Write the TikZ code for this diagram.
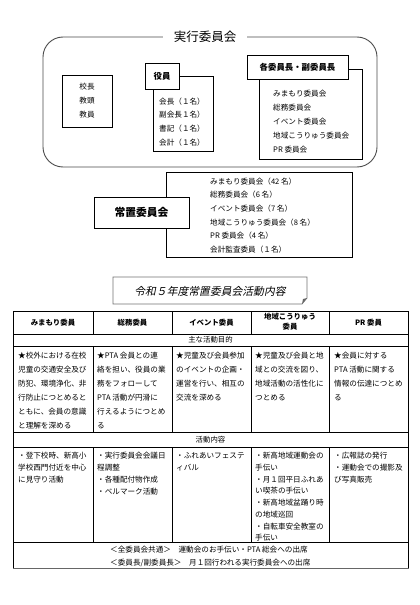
\documentclass[tikz,border=0pt]{standalone}
\usepackage{fontspec}
\setmainfont{Noto Sans CJK JP}
\newfontfamily\slantjp{Noto Sans CJK JP}[FakeSlant=0.2]

\begin{document}
\begin{tikzpicture}
  [
  x=1pt, y=-1pt,
  box/.style={draw, line width=0.7pt, inner sep=0pt},
  labelbox/.style={draw, fill=white, line width=0.7pt, inner sep=0pt, font=\fontsize{8.4}{10}\selectfont\bfseries},
  listtext/.style={anchor=north west, inner sep=0pt, align=left, font=\fontsize{7.6}{14}\selectfont},
  celltext/.style={anchor=north west, inner sep=0pt, align=left, font=\fontsize{7.6}{14}\selectfont},
  acttext/.style={celltext, font=\fontsize{7.6}{11.7}\selectfont},
  headtext/.style={inner sep=0pt, align=center, font=\fontsize{7.4}{10}\selectfont\bfseries},
  rowtext/.style={inner sep=0pt, font=\fontsize{7.4}{10}\selectfont},
  grid/.style={line width=0.6pt}
  ]
  \useasboundingbox (0,0) rectangle (420,605);
  \fill[white] (0,0) rectangle (420,605);

  % executive committee
  \node[draw=black!70, line width=0.9pt, rounded corners=20pt, minimum width=334pt, minimum height=130pt, inner sep=0pt] (exec) at (210,102) {};
  \node[fill=white, inner xsep=11pt, inner ysep=2pt, font=\fontsize{12.5}{14}\selectfont] (exectitle) at (205,37) {実行委員会};

  \node[box, minimum width=50pt, minimum height=52pt, align=center, font=\fontsize{7.6}{14}\selectfont] (staff) at (87,101) {校長\\教頭\\教員};

  \node[box, minimum width=60pt, minimum height=75pt] (officerbox) at (183,113.5) {};
  \node[listtext, font=\fontsize{7.6}{13.7}\selectfont] (officerlist) at (159,97.5) {会長（１名）\\副会長１名）\\書記（１名）\\会計（１名）};
  \node[labelbox, minimum width=34pt, minimum height=26pt] (officer) at (162,76) {役員};

  \node[box, minimum width=103pt, minimum height=90pt] (chairbox) at (310.5,114) {};
  \node[listtext] (chairlist) at (273,89.5) {みまもり委員会\\総務委員会\\イベント委員会\\地域こうりゅう委員会\\PR 委員会};
  \node[labelbox, minimum width=101pt, minimum height=24pt] (chair) at (297.5,67) {各委員長・副委員長};

  % standing committees
  \node[box, minimum width=186pt, minimum height=85pt] (standbox) at (259,214.5) {};
  \node[listtext, font=\fontsize{7.6}{13.6}\selectfont] (standlist) at (210,177.5) {みまもり委員会（42 名）\\総務委員会（6 名）\\イベント委員会（7 名）\\地域こうりゅう委員会（8 名）\\PR 委員会（4 名）\\会計監査委員（１名）};
  \node[labelbox, minimum width=95pt, minimum height=31pt, font=\fontsize{10.8}{12}\selectfont\bfseries] (standing) at (141.5,212.5) {常置委員会};

  % banner
  \node[inner sep=0pt, font=\slantjp\fontsize{10.8}{12}\selectfont] (plan) at (210,291) {令和５年度常置委員会活動内容};
  \draw[black!55, line width=0.7pt] (113,277) -- (307,277) -- (307,298) -- (302,304) -- (113,304) -- cycle;
  \fill[black!60] (302,304) -- (303,299) -- (307,298) -- cycle;

  % table
  \draw[grid] (13,311) rectangle (408,568);
  \foreach \y in {334,346,432,447,542}
    \draw[grid] (13,\y) -- (408,\y);
  \foreach \x in {93,172,251,329} {
    \draw[grid] (\x,311) -- (\x,334);
    \draw[grid] (\x,346) -- (\x,432);
    \draw[grid] (\x,447) -- (\x,542);
  }
  \draw[black!60, line width=1.4pt] (13,568.5) -- (408.5,568.5);

  \node[headtext] (head1) at (53,322.5) {みまもり委員};
  \node[headtext] (head2) at (132.5,322.5) {総務委員};
  \node[headtext] (head3) at (211.5,322.5) {イベント委員};
  \node[headtext] (head4) at (290,322) {地域こうりゅう\\委員};
  \node[headtext] (head5) at (368.5,322.5) {PR 委員};

  \node[rowtext] (aimrow) at (210.5,340) {主な活動目的};
  \node[rowtext] (actrow) at (210.5,439.5) {活動内容};

  \node[celltext] (aim1) at (18,352.3) {★校外における在校\\児童の交通安全及び\\防犯、環境浄化、非\\行防止につとめると\\ともに、会員の意識\\と理解を深める};
  \node[celltext] (aim2) at (97,352.3) {★PTA 会員との連\\絡を担い、役員の業\\務をフォローして\\PTA 活動が円滑に\\行えるようにつとめ\\る};
  \node[celltext] (aim3) at (176,352.3) {★児童及び会員参加\\のイベントの企画・\\運営を行い、相互の\\交流を深める};
  \node[celltext] (aim4) at (255,352.3) {★児童及び会員と地\\域との交流を図り、\\地域活動の活性化に\\つとめる};
  \node[celltext] (aim5) at (334,352.3) {★会員に対する\\PTA 活動に関する\\情報の伝達につとめ\\る};

  \node[acttext] (act1) at (18,452.3) {・登下校時、新高小\\学校西門付近を中心\\に見守り活動};
  \node[acttext] (act2) at (97,452.3) {・実行委員会会議日\\程調整\\・各種配付物作成\\・ベルマーク活動};
  \node[acttext] (act3) at (176,452.3) {・ふれあいフェステ\\ィバル};
  \node[acttext] (act4) at (255,452.3) {・新高地域運動会の\\手伝い\\・月１回平日ふれあ\\い喫茶の手伝い\\・新高地域盆踊り時\\の地域巡回\\・自転車安全教室の\\手伝い};
  \node[acttext] (act5) at (334,452.3) {・広報誌の発行\\・運動会での撮影及\\び写真販売};

  \node[celltext, font=\fontsize{7.6}{13}\selectfont] (common) at (110,545.5) {＜全委員会共通＞　運動会のお手伝い・PTA 総会への出席\\＜委員長/副委員長＞　月１回行われる実行委員会への出席};
\end{tikzpicture}
\end{document}
